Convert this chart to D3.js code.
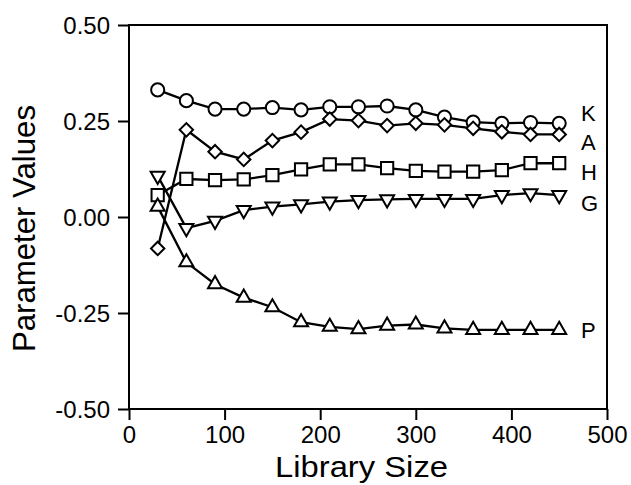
<!DOCTYPE html>
<html>
<head>
<meta charset="utf-8">
<script src="https://cdn.jsdelivr.net/npm/d3@7"></script>
<style>
  body { margin: 0; background: #fff; }
  text { font-family: "Liberation Sans", Arial, sans-serif; fill: #000; }
</style>
</head>
<body>
<script>
//Width and height
var w = 631;
var h = 485;
var margin = { top: 25, right: 24, bottom: 76, left: 129 };

//Library sizes (x values)
var sizes = [30, 60, 90, 120, 150, 180, 210, 240, 270, 300, 330, 360, 390, 420, 450];

//Parameter series
var kValues = [0.331, 0.303, 0.281, 0.281, 0.285, 0.279, 0.287, 0.287, 0.289, 0.279, 0.260, 0.247, 0.244, 0.246, 0.244];
var aValues = [-0.082, 0.227, 0.170, 0.150, 0.199, 0.221, 0.255, 0.251, 0.238, 0.244, 0.240, 0.231, 0.222, 0.215, 0.215];
var hValues = [0.057, 0.099, 0.096, 0.098, 0.109, 0.124, 0.137, 0.137, 0.127, 0.120, 0.118, 0.118, 0.122, 0.140, 0.140];
var gValues = [0.107, -0.029, -0.010, 0.018, 0.027, 0.033, 0.040, 0.044, 0.046, 0.047, 0.047, 0.047, 0.057, 0.062, 0.057];
var pValues = [0.027, -0.118, -0.175, -0.210, -0.235, -0.274, -0.286, -0.292, -0.283, -0.280, -0.290, -0.294, -0.294, -0.294, -0.294];

//Tick labels
var xTicks = [0, 100, 200, 300, 400, 500];
var yTicks = [0.5, 0.25, 0, -0.25, -0.5];

var series = [
  { name: "K", values: kValues, symbol: d3.symbolCircle, size: 135, rot: 0, labelY: 0.271 },
  { name: "A", values: aValues, symbol: d3.symbolSquare, size: 90, rot: 45, labelY: 0.194 },
  { name: "H", values: hValues, symbol: d3.symbolSquare, size: 150, rot: 0, labelY: 0.118 },
  { name: "G", values: gValues, symbol: d3.symbolTriangle, size: 85, rot: 180, labelY: 0.037 },
  { name: "P", values: pValues, symbol: d3.symbolTriangle, size: 85, rot: 0, labelY: -0.294 }
];

var svg = d3.select("body").append("svg").attr("width", w).attr("height", h);

//Create scale functions
var xScale = d3.scaleLinear().domain([0, 500]).range([margin.left, w - margin.right]);
var yScale = d3.scaleLinear().domain([-0.5, 0.5]).range([h - margin.bottom, margin.top]);

//Frame
svg.append("rect")
  .attr("x", xScale(0))
  .attr("y", yScale(0.5))
  .attr("width", xScale(500) - xScale(0))
  .attr("height", yScale(-0.5) - yScale(0.5))
  .attr("fill", "none")
  .attr("stroke", "#000")
  .attr("stroke-width", 2);

//Hyphen instead of unicode minus, as in the original figure
var yFormat = function (d) { return d3.format(".2f")(d).replace("\u2212", "-"); };

//Define axes
var xAxis = d3.axisBottom(xScale).tickValues(xTicks).tickSize(11).tickFormat(d3.format("d"));
var yAxis = d3.axisLeft(yScale).tickValues(yTicks).tickSize(11).tickPadding(8).tickFormat(yFormat);

var gx = svg.append("g")
  .attr("transform", "translate(0," + (h - margin.bottom) + ")")
  .call(xAxis);
var gy = svg.append("g")
  .attr("transform", "translate(" + margin.left + ",0)")
  .call(yAxis);

[gx, gy].forEach(function (g) {
  g.select(".domain").remove();
  g.selectAll(".tick line").attr("stroke", "#000").attr("stroke-width", 2);
  g.selectAll(".tick text").attr("font-size", 24).attr("font-family", "Liberation Sans, Arial, sans-serif");
});
gy.selectAll(".tick text").attr("dy", "0.36em");
gx.selectAll(".tick text").attr("y", 34).attr("dy", 0);

//Axis titles
svg.append("text")
  .attr("x", 275)
  .attr("y", 477)
  .attr("font-size", 30)
  .attr("textLength", 173)
  .attr("lengthAdjust", "spacingAndGlyphs")
  .text("Library Size");

svg.append("text")
  .attr("transform", "translate(35,352) rotate(-90)")
  .attr("font-size", 31)
  .attr("textLength", 247)
  .attr("lengthAdjust", "spacingAndGlyphs")
  .text("Parameter Values");

//Line generator
var line = d3.line()
  .x(function (d, i) { return xScale(sizes[i]); })
  .y(function (d) { return yScale(d); });

series.forEach(function (s) {
  svg.append("path")
    .datum(s.values)
    .attr("d", line)
    .attr("fill", "none")
    .attr("stroke", "#000")
    .attr("stroke-width", 2.3);
});

series.forEach(function (s) {
  var sym = d3.symbol().type(s.symbol).size(s.size);
  svg.append("g")
    .selectAll("path")
    .data(s.values)
    .enter()
    .append("path")
    .attr("d", sym)
    .attr("transform", function (d, i) {
      return "translate(" + xScale(sizes[i]) + "," + yScale(d) + ") rotate(" + s.rot + ")";
    })
    .attr("fill", "#fff")
    .attr("stroke", "#000")
    .attr("stroke-width", 2);

  svg.append("text")
    .attr("x", 581)
    .attr("y", yScale(s.labelY))
    .attr("dy", "0.36em")
    .attr("font-size", 22)
    .text(s.name);
});
</script>
</body>
</html>
